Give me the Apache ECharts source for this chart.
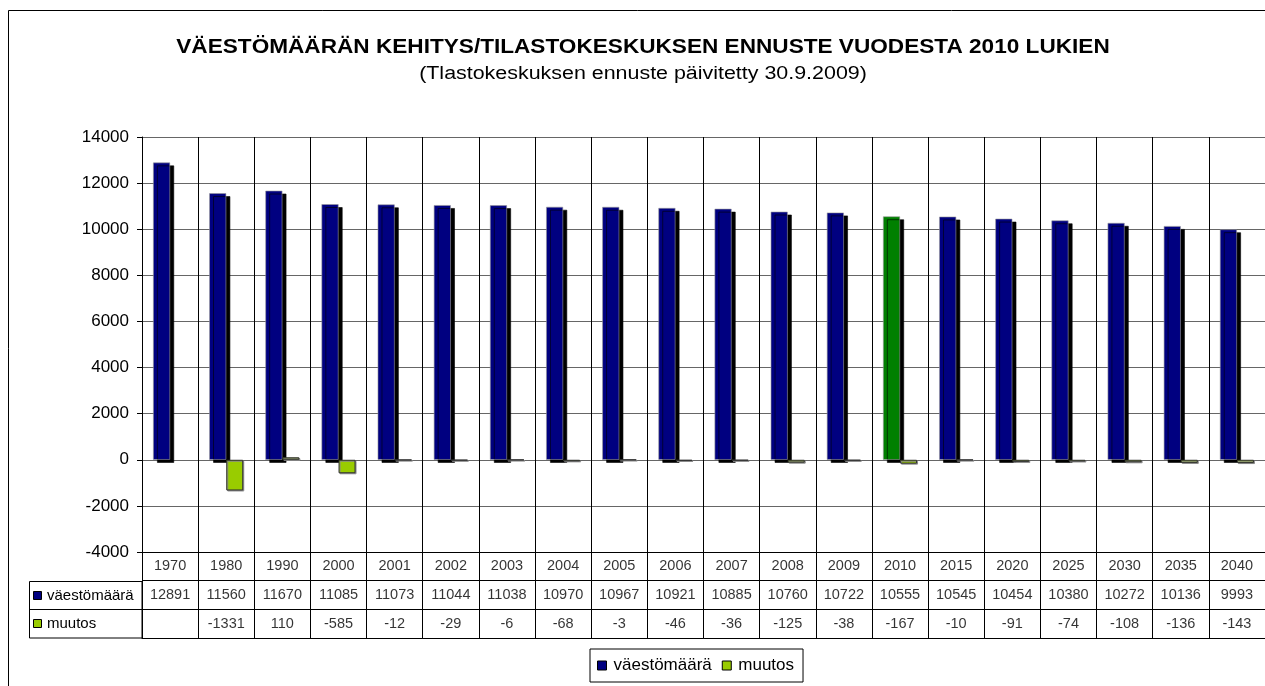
<!DOCTYPE html>
<html>
<head>
    <meta charset="utf-8">
    <title>Väestömäärän kehitys</title>
    <script src="https://cdn.jsdelivr.net/npm/echarts@6/dist/echarts.min.js"></script>
    <style>
        html, body { margin: 0; padding: 0; background: #fff; }
        #chart1 { width: 1265px; height: 686px; }
    </style>
</head>
<body>
<div id="chart1"></div>
<script type="text/javascript">
    // data
    var years = ['1970', '1980', '1990', '2000', '2001', '2002', '2003', '2004', '2005', '2006',
        '2007', '2008', '2009', '2010', '2015', '2020', '2025', '2030', '2035', '2040'];
    var vaesto = [12891, 11560, 11670, 11085, 11073, 11044, 11038, 10970, 10967, 10921,
        10885, 10760, 10722, 10555, 10545, 10454, 10380, 10272, 10136, 9993];
    var muutos = [null, -1331, 110, -585, -12, -29, -6, -68, -3, -46,
        -36, -125, -38, -167, -10, -91, -74, -108, -136, -143];
    var yTicks = [-4000, -2000, 0, 2000, 4000, 6000, 8000, 10000, 12000, 14000];
    var highlightYear = '2010';   // ennusteen alkuvuosi, eri väri

    var FONT = 'Liberation Sans, Arial, sans-serif';
    var NAVY = '#000080', LIME = '#99CC00', GREEN = '#008000';

    var myChart1 = echarts.init(document.getElementById('chart1'));

    var vaestoData = vaesto.map(function (v, i) {
        if (years[i] === highlightYear) {
            return { value: v, itemStyle: { color: GREEN } };
        }
        return v;
    });

    // data table cells: [column, row, text]
    var tableCells = [];
    years.forEach(function (y, i) {
        tableCells.push([i, 'year', y]);
        tableCells.push([i, 'pop', String(vaesto[i])]);
        tableCells.push([i, 'chg', muutos[i] == null ? '' : String(muutos[i])]);
    });

    var option = {
        animation: false,
        legend: {
            left: 590, top: 649,
            data: ['väestömäärä', 'muutos'],
            icon: 'rect', itemWidth: 9, itemHeight: 9, itemGap: 10,
            borderColor: '#000', borderWidth: 1, padding: [8, 9, 8, 7],
            itemStyle: { borderColor: '#000', borderWidth: 1, shadowBlur: 0, shadowOffsetX: 0, shadowOffsetY: 0 },
            textStyle: { fontFamily: FONT, fontSize: 17, color: '#000', padding: [0, 0, 0, 2] }
        },
        grid: [
            { left: 142, top: 137, width: 1126, height: 415 },
            { left: 142, top: 552, width: 1126, height: 86 }
        ],
        xAxis: [{
            type: 'category', gridIndex: 0, data: years,
            axisLine: { onZero: false, lineStyle: { color: '#000' } },
            axisTick: { show: false },
            axisLabel: { show: false },
            splitLine: { show: true, interval: 0, lineStyle: { color: '#000', width: 1 } }
        }, {
            type: 'category', gridIndex: 1, data: years,
            axisLine: { show: true, lineStyle: { color: '#000' } },
            axisTick: { show: false },
            axisLabel: { show: false },
            splitLine: { show: true, interval: 0, lineStyle: { color: '#000', width: 1 } }
        }],
        yAxis: [{
            type: 'value', gridIndex: 0,
            min: yTicks[0], max: yTicks[yTicks.length - 1], interval: 2000,
            axisLine: { show: true, lineStyle: { color: '#000' } },
            axisTick: { show: true, length: 5, lineStyle: { color: '#000' } },
            axisLabel: {
                fontFamily: FONT, fontSize: 17, color: '#000', margin: 13,
                formatter: function (v) { return String(v); }
            },
            splitLine: { show: true, lineStyle: { color: '#666', width: 1 } }
        }, {
            type: 'category', gridIndex: 1, inverse: true,
            data: ['year', 'pop', 'chg'],
            axisLine: { show: true, lineStyle: { color: '#000' } },
            axisTick: { show: false },
            axisLabel: { show: false },
            splitLine: { show: true, lineStyle: { color: '#000', width: 1 } }
        }],
        series: [{
            name: 'väestömäärä', type: 'bar', xAxisIndex: 0, yAxisIndex: 0,
            data: vaestoData, barWidth: 17, barGap: '0%',
            itemStyle: {
                color: NAVY, borderColor: '#9a9a9a', borderWidth: 0.6,
                shadowColor: '#000', shadowBlur: 0, shadowOffsetX: 4, shadowOffsetY: 3
            }
        }, {
            name: 'muutos', type: 'bar', xAxisIndex: 0, yAxisIndex: 0,
            data: muutos, barWidth: 17, barGap: '0%',
            itemStyle: {
                color: LIME, borderColor: '#333', borderWidth: 1,
                shadowColor: '#888', shadowBlur: 0, shadowOffsetX: 1, shadowOffsetY: 1
            }
        }, {
            name: 'taulukko', type: 'scatter', xAxisIndex: 1, yAxisIndex: 1,
            data: tableCells, symbolSize: 0, silent: true,
            label: {
                show: true, position: 'inside',
                fontFamily: FONT, fontSize: 14.5, color: '#000',
                formatter: function (p) { return p.value[2]; }
            }
        }],
        graphic: [
            // chart border
            { type: 'rect', shape: { x: 8.5, y: 10.5, width: 1300, height: 700 },
              style: { fill: null, stroke: '#000', lineWidth: 1 }, silent: true },
            // titles (Excel stretches them a little sideways)
            { type: 'text', x: 643, y: 47, scaleX: 1.13,
              style: { text: 'VÄESTÖMÄÄRÄN KEHITYS/TILASTOKESKUKSEN ENNUSTE VUODESTA 2010 LUKIEN',
                       font: 'bold 20px ' + FONT, fill: '#000', textAlign: 'center', textVerticalAlign: 'middle' },
              silent: true },
            { type: 'text', x: 643, y: 74, scaleX: 1.19,
              style: { text: '(Tlastokeskuksen ennuste päivitetty 30.9.2009)',
                       font: '18px ' + FONT, fill: '#000', textAlign: 'center', textVerticalAlign: 'middle' },
              silent: true },
            // data table row headers
            { type: 'rect', shape: { x: 29.5, y: 581.5, width: 112.5, height: 56.5 },
              style: { fill: null, stroke: '#000', lineWidth: 1 }, silent: true },
            { type: 'line', shape: { x1: 29.5, y1: 609.5, x2: 142, y2: 609.5 },
              style: { stroke: '#000', lineWidth: 1 }, silent: true },
            { type: 'rect', shape: { x: 33.5, y: 591.5, width: 8, height: 8 },
              style: { fill: NAVY, stroke: '#000', lineWidth: 1 }, silent: true },
            { type: 'text', x: 47, y: 596,
              style: { text: 'väestömäärä', font: '15px ' + FONT, fill: '#000', textVerticalAlign: 'middle' }, silent: true },
            { type: 'rect', shape: { x: 33.5, y: 619.5, width: 8, height: 8 },
              style: { fill: LIME, stroke: '#000', lineWidth: 1 }, silent: true },
            { type: 'text', x: 47, y: 624,
              style: { text: 'muutos', font: '15px ' + FONT, fill: '#000', textVerticalAlign: 'middle' }, silent: true }
        ]
    };

    myChart1.setOption(option);
</script>
</body>
</html>
